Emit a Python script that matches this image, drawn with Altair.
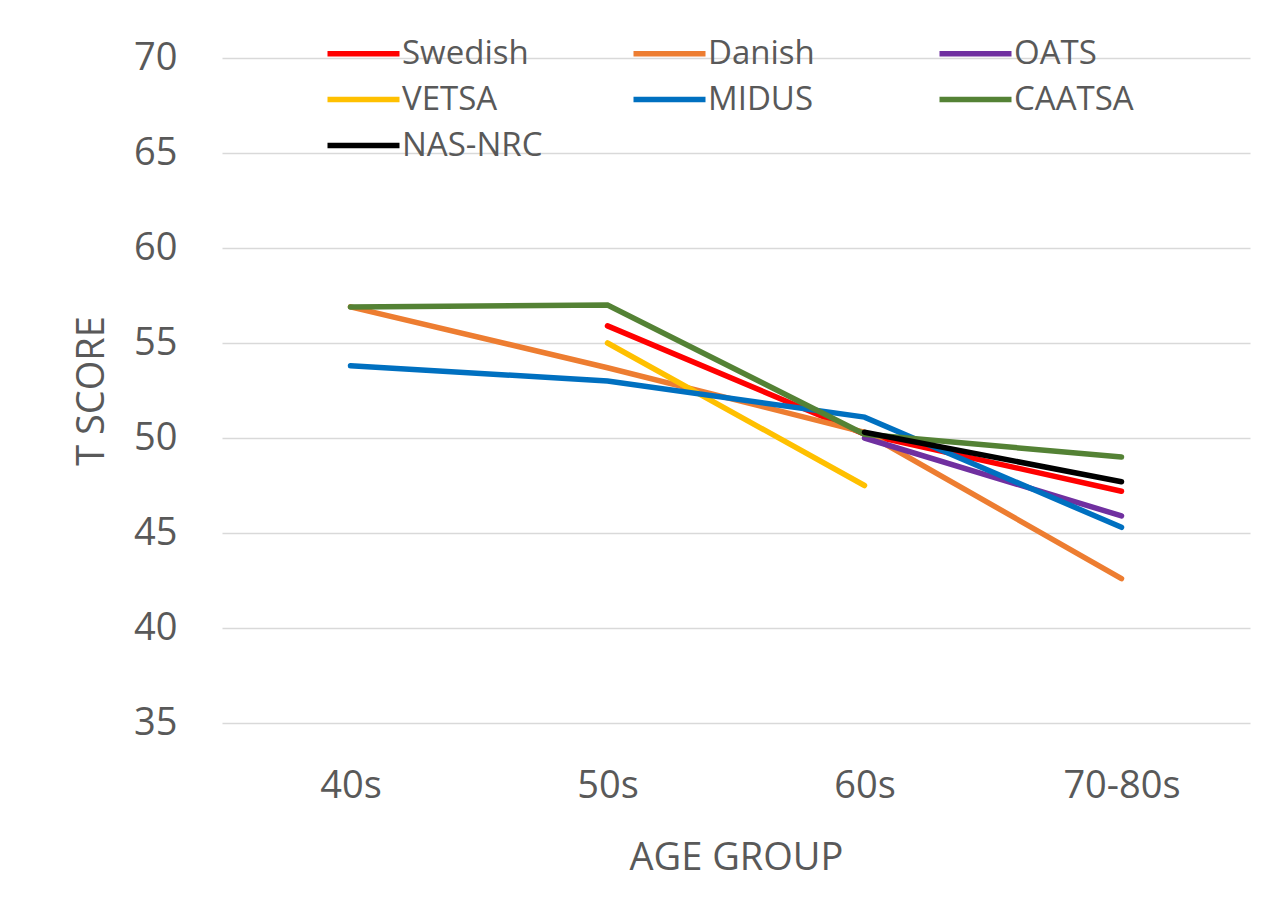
import altair as alt
import pandas as pd

ages = ["40s", "50s", "60s", "70-80s"]
series = ["Swedish", "Danish", "OATS", "VETSA", "MIDUS", "CAATSA", "NAS-NRC"]
colors = ["#FF0000", "#ED7D31", "#7030A0", "#FFC000", "#0070C0", "#548235", "#000000"]

swedish = [None, 55.9, 50.2, 47.2]
danish = [56.9, 53.7, 50.3, 42.6]
oats = [None, None, 50.0, 45.9]
vetsa = [None, 55.0, 47.5, None]
midus = [53.8, 53.0, 51.1, 45.3]
caatsa = [56.9, 57.0, 50.2, 49.0]
nasnrc = [None, None, 50.3, 47.7]

values = [swedish, danish, oats, vetsa, midus, caatsa, nasnrc]
rows = []
for i, (name, vals) in enumerate(zip(series, values)):
    for age, v in zip(ages, vals):
        if v is not None:
            rows.append({"series": name, "age": age, "score": v, "z": i})
df = pd.DataFrame(rows)

FONT = "Open Sans"
GRAY = "#595959"

chart = alt.Chart(df).mark_line(strokeWidth=5.5, strokeCap="round").encode(
    x=alt.X("age:N", sort=ages, title="AGE GROUP",
            scale=alt.Scale(paddingInner=0, paddingOuter=0.5),
            axis=alt.Axis(labelAngle=0, labelFontSize=38, labelColor=GRAY,
                          titleFontSize=38, titleColor=GRAY, titleFontWeight="normal",
                          ticks=False, domain=False, grid=False, labelPadding=44,
                          titlePadding=34, labelFont=FONT, titleFont=FONT)),
    y=alt.Y("score:Q", title="T SCORE",
            scale=alt.Scale(domain=[35, 70], nice=False, zero=False),
            axis=alt.Axis(values=[35, 40, 45, 50, 55, 60, 65, 70], labelFontSize=38,
                          labelColor=GRAY, titleFontSize=38, titleColor=GRAY,
                          titleFontWeight="normal", ticks=False, domain=False,
                          gridColor="#d9d9d9", gridWidth=1.5, labelPadding=45,
                          titlePadding=22, labelFont=FONT, titleFont=FONT)),
    color=alt.Color("series:N", scale=alt.Scale(domain=series, range=colors),
                    legend=alt.Legend(title=None, orient="none", legendX=125, legendY=-21,
                                      columns=3, direction="horizontal", gridAlign="all",
                                      columnPadding=79,
                                      symbolType="M-4,0L4,0", symbolSize=324,
                                      symbolStrokeWidth=5.5, labelFontSize=33,
                                      labelColor=GRAY, labelFont=FONT,
                                      rowPadding=12, labelOffset=22, labelLimit=300)),
    order=alt.Order("z:Q"),
    detail="series:N",
).properties(
    width=1028, height=665,
    padding={"left": 214, "top": 50, "right": 10, "bottom": 180},
    autosize=alt.AutoSizeParams(type="none"),
    background="white",
).configure_view(stroke=None)

chart.save("out.html", embed_options={"renderer": "svg", "actions": False})
